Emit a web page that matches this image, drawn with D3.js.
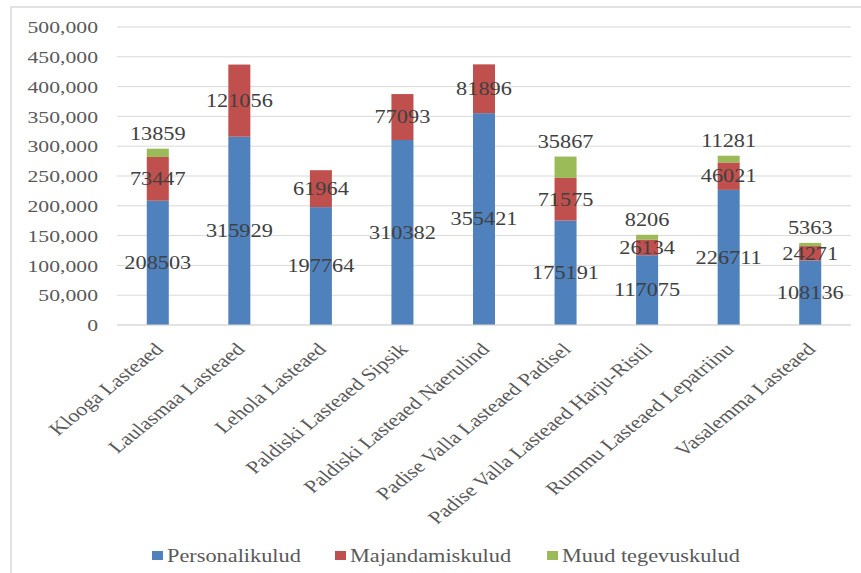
<!DOCTYPE html>
<html>
<head>
<meta charset="utf-8">
<script src="https://cdn.jsdelivr.net/npm/d3@7"></script>
<style>
  body { margin: 0; background: #fff; }
  text { font-family: "Liberation Serif", "Times New Roman", serif; }
</style>
</head>
<body>
<svg id="chart"></svg>
<script>
// Chart data
const categories = ["Klooga Lasteaed", "Laulasmaa Lasteaed", "Lehola Lasteaed", "Paldiski Lasteaed Sipsik",
  "Paldiski Lasteaed Naerulind", "Padise Valla Lasteaed Padisel", "Padise Valla Lasteaed Harju-Ristil",
  "Rummu Lasteaed Lepatriinu", "Vasalemma Lasteaed"];
const personalikulud = [208503, 315929, 197764, 310382, 355421, 175191, 117075, 226711, 108136];
const majandamiskulud = [73447, 121056, 61964, 77093, 81896, 71575, 26134, 46021, 24271];
const muudKulud = [13859, 0, 0, 0, 0, 35867, 8206, 11281, 5363];
const seriesNames = ["Personalikulud", "Majandamiskulud", "Muud tegevuskulud"];
const seriesColors = ["#4f81bd", "#c0504d", "#9bbb59"];
const yTicks = [0, 50000, 100000, 150000, 200000, 250000, 300000, 350000, 400000, 450000, 500000];

const width = 861, height = 573;
const margin = { top: 27, left: 117, right: 10, bottom: 248 };
const stretch = 1.24; // the reference text is drawn wide

const svg = d3.select("#chart").attr("width", width).attr("height", height);

// outer frame
svg.append("rect").attr("x", 11).attr("y", 7).attr("width", 870).attr("height", 600)
  .attr("fill", "none").attr("stroke", "#d9d9d9").attr("stroke-width", 1.5);

const x = d3.scaleBand().domain(categories).range([margin.left, width - margin.right]).paddingInner(0.73).paddingOuter(0.365);
const y = d3.scaleLinear().domain([0, 500000]).range([height - margin.bottom, margin.top]);

// gridlines
svg.append("g").selectAll("line").data(yTicks).join("line")
  .attr("x1", margin.left).attr("x2", width - margin.right)
  .attr("y1", d => y(d)).attr("y2", d => y(d))
  .attr("stroke", "#d9d9d9").attr("stroke-width", 1);

// y axis labels
const yAxis = svg.append("g").attr("transform", `translate(${margin.left - 19},0)`)
  .call(d3.axisLeft(y).tickValues(yTicks).tickSize(0).tickPadding(0).tickFormat(d3.format(",")));
yAxis.select(".domain").remove();
yAxis.selectAll("text").attr("fill", "#595959").attr("transform", `scale(${stretch},1)`)
  .style("font-size", "17.5px").style("font-family", "'Liberation Serif', serif");

// stacked data
const rows = categories.map((c, i) => ({ cat: c, s0: personalikulud[i], s1: majandamiskulud[i], s2: muudKulud[i] }));
const stack = d3.stack().keys(["s0", "s1", "s2"])(rows);

const layers = svg.append("g").selectAll("g").data(stack).join("g")
  .attr("fill", (d, i) => seriesColors[i]);
layers.selectAll("rect").data(d => d).join("rect")
  .attr("x", d => x(d.data.cat)).attr("width", x.bandwidth())
  .attr("y", d => y(d[1])).attr("height", d => y(d[0]) - y(d[1]));

// data labels
const labelG = svg.append("g");
stack.forEach((layer, i) => {
  labelG.selectAll(null).data(layer.filter(d => d[1] - d[0] > 0)).join("text")
    .attr("transform", d => {
      const cx = x(d.data.cat) + x.bandwidth() / 2;
      const cy = i === 2 ? y(d[1]) - 15 : (y(d[0]) + y(d[1])) / 2;
      return `translate(${cx},${cy}) scale(${stretch},1)`;
    })
    .attr("dy", "0.35em")
    .attr("text-anchor", "middle")
    .attr("fill", "#404040")
    .style("font-size", "18px")
    .text(d => d[1] - d[0]);
});

// axis baseline
svg.append("line").attr("x1", margin.left).attr("x2", width - margin.right)
  .attr("y1", y(0)).attr("y2", y(0)).attr("stroke", "#d9d9d9");

// category labels
svg.append("g").selectAll("text").data(categories).join("text")
  .attr("transform", d => `translate(${x(d) + x.bandwidth() / 2 + 1},${y(0) + 21}) scale(${stretch},1) rotate(-45)`)
  .attr("text-anchor", "end").attr("dy", "0.35em")
  .attr("fill", "#595959").style("font-size", "18px")
  .text(d => d);

// legend
const legendX = [152, 335, 547];
const legend = svg.append("g").selectAll("g").data(seriesNames).join("g")
  .attr("transform", (d, i) => `translate(${legendX[i]},551)`);
legend.append("rect").attr("width", 11).attr("height", 9).attr("fill", (d, i) => seriesColors[i]);
legend.append("text").attr("transform", `translate(15,11) scale(${stretch},1)`).attr("fill", "#595959")
  .style("font-size", "18px").text(d => d);
</script>
</body>
</html>
